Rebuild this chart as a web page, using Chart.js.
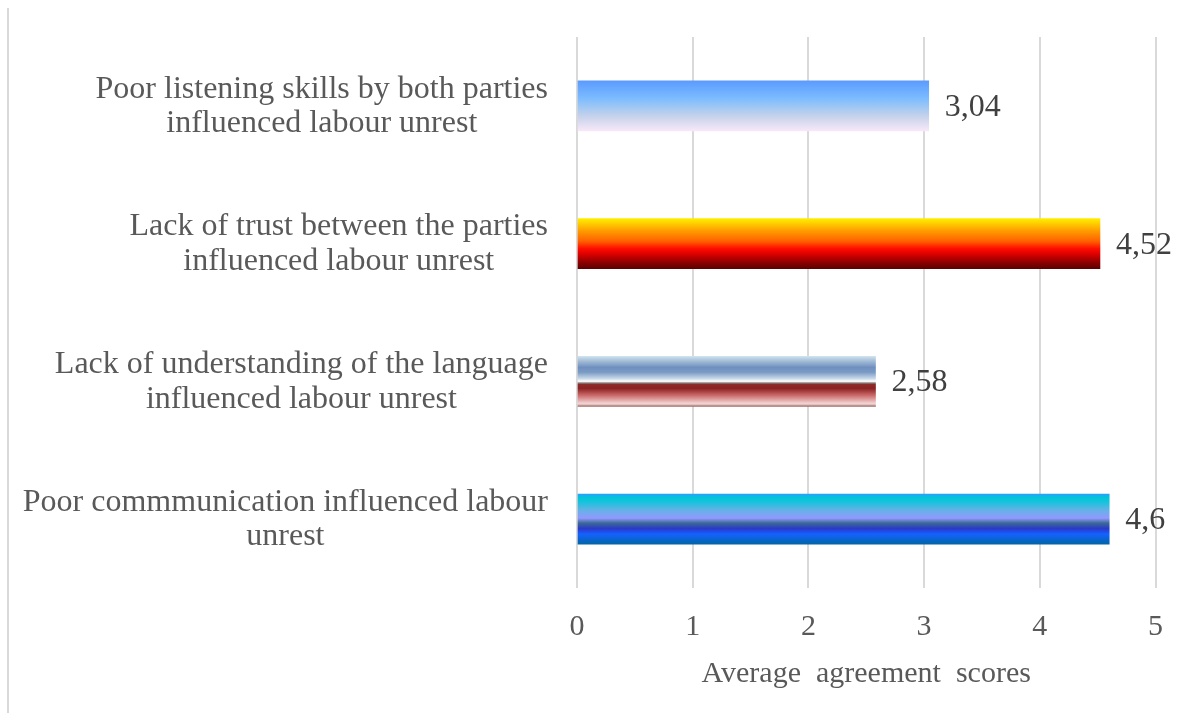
<!DOCTYPE html>
<html>
<head>
<meta charset="utf-8">
<title>Average agreement scores</title>
<script src="https://cdn.jsdelivr.net/npm/chart.js@4.4.0/dist/chart.umd.min.js"></script>
<style>
  html, body { margin: 0; padding: 0; background: #ffffff; }
  #wrap { position: relative; width: 1184px; height: 713px; }
  canvas { display: block; }
</style>
</head>
<body>
<div id="wrap"><canvas id="chart" width="1184" height="713"></canvas></div>
<script>
// Survey items (two-line labels) and their average agreement scores
const categories = [
  ["Poor listening skills by both parties", "influenced labour unrest"],
  ["Lack of trust between the parties", "influenced labour unrest"],
  ["Lack of understanding of the language", "influenced labour unrest"],
  ["Poor commmunication influenced labour", "unrest"]
];
const scores = [3.04, 4.52, 2.58, 4.6];
const xTickValues = [0, 1, 2, 3, 4, 5];
const axisTitle = "Average  agreement  scores";

// Vertical gradient fills, one per bar (offset within bar height, colour)
const barFills = [
  [[0, "#5b9bff"], [0.35, "#7cbcff"], [0.7, "#c4d2ea"], [1, "#f8e8f8"]],
  [[0, "#ffee00"], [0.25, "#ff9a00"], [0.45, "#ff6200"], [0.6, "#ff0c00"], [0.72, "#d80000"], [0.88, "#8a0000"], [1, "#5e0000"]],
  [[0, "#cfe2ec"], [0.08, "#a9c2da"], [0.22, "#6f8fbe"], [0.32, "#7b9bc6"], [0.44, "#c6d6e6"], [0.5, "#ffffff"], [0.53, "#8a8a8a"], [0.56, "#8e2a2a"], [0.64, "#8a2222"], [0.78, "#cc6a6a"], [0.94, "#f2d4d4"], [0.96, "#e8c4c0"], [1, "#9a6e6a"]],
  [[0, "#2a9eff"], [0.07, "#00c6d6"], [0.14, "#10c4dc"], [0.32, "#64b2e6"], [0.48, "#9298ff"], [0.58, "#3a6a96"], [0.69, "#2c38c8"], [0.8, "#1462ff"], [1, "#0066a6"]]
];

const FONT_FAMILY = "'Liberation Serif', 'Times New Roman', serif";
const BAR_THICKNESS = 50;
const GRID_COLOR = "#d9d9d9";

function formatScore(v) {
  return String(v).replace(".", ",");
}

// Frame line along the left edge of the chart
const framePlugin = {
  id: "frameLine",
  beforeDraw(chart) {
    const c = chart.ctx;
    c.save();
    c.strokeStyle = GRID_COLOR;
    c.lineWidth = 2;
    c.beginPath();
    c.moveTo(8, 8);
    c.lineTo(8, chart.height);
    c.stroke();
    c.restore();
  }
};

// Category labels: each block right-aligned to the axis, lines centred within the block
const categoryLabelPlugin = {
  id: "categoryLabels",
  afterDraw(chart) {
    const c = chart.ctx;
    const yScale = chart.scales.y;
    const right = chart.chartArea.left - 29;
    const lineH = 34.4;
    c.save();
    c.font = "32px " + FONT_FAMILY;
    c.fillStyle = "#595959";
    c.textAlign = "center";
    c.textBaseline = "alphabetic";
    categories.forEach((lines, i) => {
      const widest = Math.max(...lines.map(t => c.measureText(t).width));
      const cx = right - widest / 2;
      const yc = yScale.getPixelForValue(i);
      const first = yc + 9 - (lines.length - 1) * lineH / 2;
      lines.forEach((t, k) => c.fillText(t, cx, first + k * lineH));
    });
    c.restore();
  }
};

// Score labels to the right of each bar
const valueLabelPlugin = {
  id: "valueLabels",
  afterDatasetsDraw(chart) {
    const c = chart.ctx;
    const meta = chart.getDatasetMeta(0);
    c.save();
    c.font = "32px " + FONT_FAMILY;
    c.fillStyle = "#404040";
    c.textAlign = "left";
    c.textBaseline = "middle";
    meta.data.forEach((bar, i) => {
      c.fillText(formatScore(scores[i]), bar.x + 16, bar.y + 1.5);
    });
    c.restore();
  }
};

function barGradient(ctx) {
  const chart = ctx.chart;
  const stops = barFills[ctx.dataIndex % barFills.length];
  if (!chart.chartArea || ctx.type !== "data") return stops[0][1];
  const yc = chart.scales.y.getPixelForValue(ctx.dataIndex);
  const g = chart.ctx.createLinearGradient(0, yc - BAR_THICKNESS / 2, 0, yc + BAR_THICKNESS / 2);
  stops.forEach(([o, col]) => g.addColorStop(o, col));
  return g;
}

new Chart(document.getElementById("chart"), {
  type: "bar",
  data: {
    labels: categories,
    datasets: [{
      data: scores,
      backgroundColor: barGradient,
      borderWidth: 0,
      barThickness: BAR_THICKNESS
    }]
  },
  options: {
    indexAxis: "y",
    responsive: false,
    animation: false,
    layout: { padding: { left: 0, right: 28, top: 37, bottom: 0 } },
    plugins: {
      legend: { display: false },
      tooltip: { enabled: false }
    },
    scales: {
      x: {
        type: "linear",
        min: xTickValues[0],
        max: xTickValues[xTickValues.length - 1],
        afterBuildTicks(scale) {
          scale.ticks = xTickValues.map(v => ({ value: v }));
        },
        afterFit(scale) { scale.height = 125; },
        grid: { color: GRID_COLOR, lineWidth: 2, drawTicks: false },
        border: { display: false },
        ticks: {
          padding: 21,
          color: "#595959",
          font: { family: FONT_FAMILY, size: 30 },
          callback: v => String(v)
        },
        title: {
          display: true,
          text: axisTitle,
          color: "#595959",
          font: { family: FONT_FAMILY, size: 30 },
          padding: { top: 0, bottom: 21 }
        }
      },
      y: {
        type: "category",
        afterFit(scale) { scale.width = 577; },
        grid: { display: false, drawTicks: false },
        border: { display: false },
        ticks: { display: false }
      }
    }
  },
  plugins: [framePlugin, valueLabelPlugin, categoryLabelPlugin]
});
</script>
</body>
</html>
